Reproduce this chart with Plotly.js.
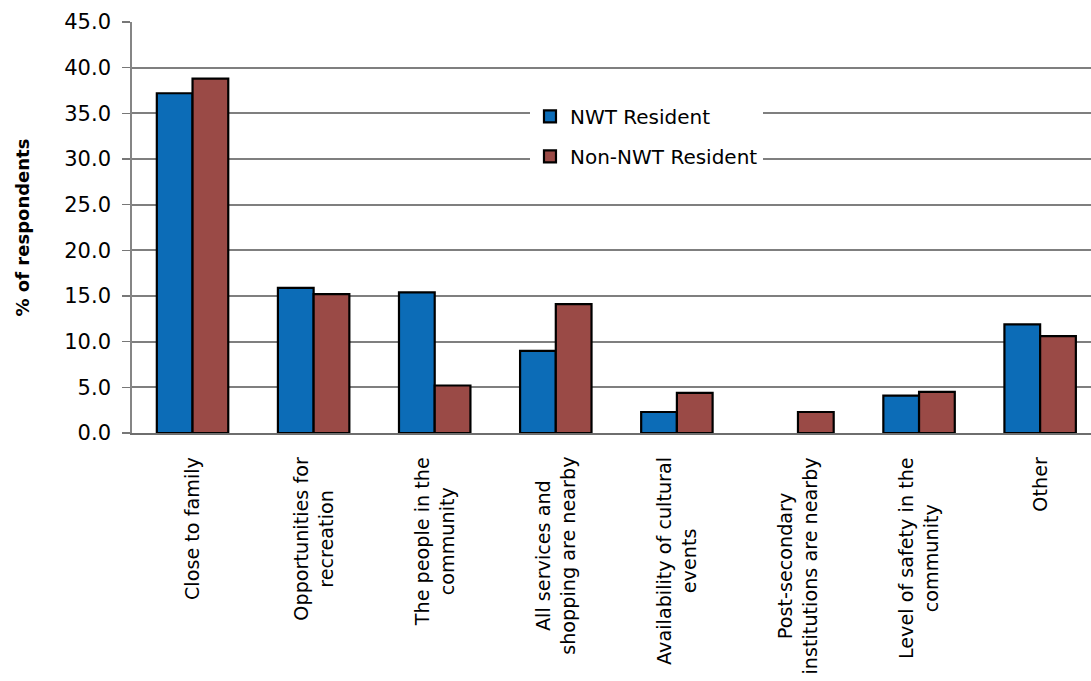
<!DOCTYPE html>
<html>
<head>
<meta charset="utf-8">
<script src="https://cdn.plot.ly/plotly-3.0.1.min.js"></script>
<style>html,body{margin:0;padding:0;background:#fff;}#chart{width:1091px;height:681px;}</style>
</head>
<body>
<div id="chart"></div>
<script>
const categories = [
  "Close to family",
  "Opportunities for<br>recreation",
  "The people in the<br>community",
  "All services and<br>shopping are nearby",
  "Availability of cultural<br>events",
  "Post-secondary<br>institutions are nearby",
  "Level of safety in the<br>community",
  "Other"
];
const nwtResident = [37.2, 15.9, 15.4, 9.0, 2.3, null, 4.1, 11.9];
const nonNwtResident = [38.8, 15.2, 5.2, 14.1, 4.4, 2.3, 4.5, 10.6];
const yTicks = [0, 5, 10, 15, 20, 25, 30, 35, 40, 45];

const font = "DejaVu Sans, Verdana, sans-serif";

const traces = [
  {type: "bar", name: "NWT Resident", x: categories, y: nwtResident,
   legendgroup: "a",
   marker: {color: "#0c6cb7", line: {color: "#000", width: 2.2}}},
  {type: "bar", name: "Non-NWT Resident", x: categories, y: nonNwtResident,
   legendgroup: "b",
   marker: {color: "#9a4a46", line: {color: "#000", width: 2.2}}}
];

// category labels as rotated, centre-aligned text anchored under each category
const labelAnnotations = categories.map(c => ({
  x: c, xref: "x", y: 0, yref: "paper",
  xanchor: "center", yanchor: "top", yshift: -22,
  text: c, textangle: -90, align: "center", showarrow: false,
  font: {family: font, size: 19.2, color: "#000"}
}));

const layout = {
  width: 1091, height: 681,
  margin: {l: 132, r: 0, t: 22, b: 248},
  paper_bgcolor: "#fff", plot_bgcolor: "#fff",
  barmode: "group", bargap: 0.41, bargroupgap: 0,
  font: {family: font, color: "#000"},
  showlegend: true,
  legend: {
    x: 0.415, y: 0.818, xanchor: "left", yanchor: "top",
    bgcolor: "#fff", borderwidth: 0,
    font: {family: font, size: 20, color: "#000"},
    traceorder: "grouped", tracegroupgap: 11
  },
  annotations: labelAnnotations,
  xaxis: {
    type: "category",
    range: [-0.5, 7.42],
    showticklabels: false,
    ticks: "",
    showgrid: false,
    showline: true, linecolor: "#6e6e6e", linewidth: 2,
    fixedrange: true
  },
  yaxis: {
    range: [0, 45],
    tickvals: yTicks,
    tickformat: ".1f",
    ticks: "outside", ticklen: 8, tickcolor: "#777", tickwidth: 1.6,
    ticklabelstandoff: 7,
    tickfont: {family: font, size: 21, color: "#000"},
    showgrid: true, gridcolor: "#7f7f7f", gridwidth: 1.8,
    showline: true, linecolor: "#858585", linewidth: 1.8,
    zeroline: false,
    title: {text: "<b>% of respondents</b>", font: {family: font, size: 18, color: "#000"}, standoff: 30},
    fixedrange: true
  }
};

Plotly.newPlot("chart", traces, layout, {displayModeBar: false, staticPlot: true});
</script>
</body>
</html>
